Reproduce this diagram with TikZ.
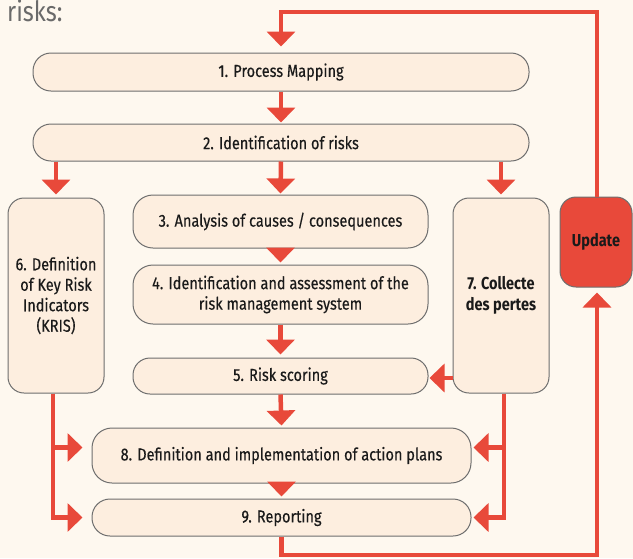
\documentclass[tikz,border=0pt]{standalone}
\usepackage{fontspec}
\setmainfont{Fira Sans}[FakeStretch=0.84]
\newfontfamily\boxfont{Fira Sans}[FakeStretch=0.84, FakeBold=0.35]
\usetikzlibrary{arrows.meta}
\definecolor{bg}{HTML}{FEF8EF}
\definecolor{boxfill}{HTML}{FDEEDF}
\definecolor{boxline}{HTML}{6E6E6E}
\definecolor{arr}{HTML}{E8493A}
\definecolor{txt}{HTML}{1A1A1A}
\definecolor{titlegray}{HTML}{6A6A6A}
\tikzset{
  box/.style={draw=boxline, line width=1pt, fill=boxfill, text=txt,
    font=\boxfont\fontsize{17.3}{20.5}\selectfont, align=center, inner sep=0pt},
  boldbox/.style={font=\fontsize{17.3}{20.5}\selectfont\bfseries},
  flow/.style={draw=arr, line width=4.5pt, -{Triangle[width=28pt,length=15pt]}},
}
\begin{document}
\begin{tikzpicture}[x=1pt,y=-1pt]
\fill[bg] (0,0) rectangle (633,558);
\useasboundingbox (0,0) rectangle (633,558);

\node[anchor=base west, text=titlegray, font=\fontsize{28}{30}\selectfont, inner sep=0pt] (title) at (7,21) {risks:};

\node[box, minimum width=496pt, minimum height=38pt, rounded corners=18pt] (b1) at (281,72) {1. Process Mapping};
\node[box, minimum width=496pt, minimum height=37pt, rounded corners=18pt] (b2) at (281,142.5) {2. Identification of risks};
\node[box, minimum width=295pt, minimum height=53pt, rounded corners=20pt] (b3) at (280.5,221.5) {3. Analysis of causes / consequences};
\node[box, minimum width=295pt, minimum height=59pt, rounded corners=20pt] (b4) at (280.5,294.5) {4. Identification and assessment of the\\risk management system};
\node[box, minimum width=295pt, minimum height=36pt, rounded corners=17pt] (b5) at (280.5,376) {5. Risk scoring};
\node[box, minimum width=96pt, minimum height=195pt, rounded corners=16pt] (b6) at (56,295.5) {6. Definition\\of Key Risk\\Indicators\\(KRIS)};
\node[box, boldbox, minimum width=96pt, minimum height=195pt, rounded corners=16pt] (b7) at (501,295.5) {7. Collecte\\des pertes};
\node[box, boldbox, fill=arr, minimum width=72pt, minimum height=90pt, rounded corners=16pt] (upd) at (596,242) {Update};
\node[box, minimum width=379pt, minimum height=55pt, rounded corners=20pt] (b8) at (281.5,455.5) {8. Definition and implementation of action plans};
\node[box, minimum width=379pt, minimum height=37pt, rounded corners=18pt] (b9) at (281.5,517.5) {9. Reporting};

\coordinate (tl) at (281,12);
\coordinate (br) at (597,555);
\coordinate (lb) at (53,517);
\coordinate (rb) at (504,517);

% top loop
\draw[flow] ([xshift=1pt]upd.north) |- (tl) -- ([yshift=6pt]b1.north);
% main column
\draw[flow] (b1.south) -- ([yshift=1pt]b2.north);
\draw[flow] (b2.south) -- ([yshift=1pt]b3.north);
\draw[flow] (b2.south -| b6.north) -- ([yshift=3pt]b6.north);
\draw[flow] (b2.south -| b7.north) -- ([yshift=3pt]b7.north);
\draw[flow] (b3.south) -- ([yshift=2pt]b4.north);
\draw[flow] (b4.south) -- ([yshift=3pt]b5.north);
\draw[flow] (b7.west |- 0,378) -- ([xshift=1pt]b5.east |- 0,378);
\draw[flow] (b5.south) -- ([yshift=2pt]b8.north);
\draw[flow] (b8.south) -- ([yshift=2pt]b9.north);
% left branch
\draw[flow] (b6.south -| lb) |- ([xshift=-9pt,yshift=8pt]b8.west);
\draw[flow] (b6.south -| lb) |- ([xshift=-9pt]b9.west);
% right branch
\draw[flow] (b7.south -| rb) |- ([xshift=2pt,yshift=8pt]b8.east);
\draw[flow] (b7.south -| rb) |- ([xshift=2pt]b9.east);
% bottom loop
\draw[flow] (b9.south) |- (br) -- ([yshift=-5pt]upd.south -| br);
\end{tikzpicture}
\end{document}
